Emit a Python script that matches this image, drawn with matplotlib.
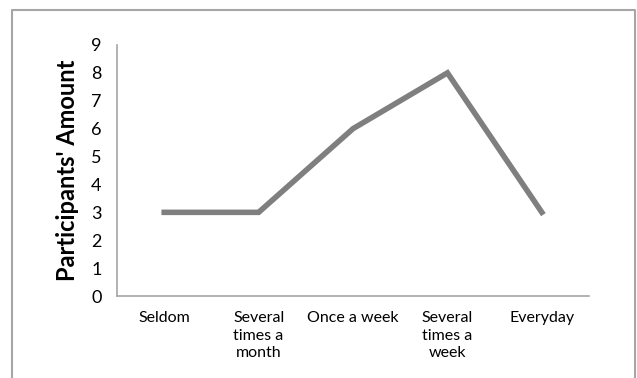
import matplotlib.pyplot as plt
from matplotlib.lines import Line2D

categories = ['Seldom', 'Several\ntimes a\nmonth', 'Once a week', 'Several\ntimes a\nweek', 'Everyday']
amounts = [3, 3, 6, 8, 3]

plt.rcParams['font.family'] = ['Lato', 'DejaVu Sans']

fig = plt.figure(figsize=(6.37, 3.78), dpi=100)
ax = fig.add_axes([0.1837, 0.2169, 0.7410, 0.6641])

x = range(len(categories))
ax.plot(x, amounts, color='#7f7f7f', linewidth=4, solid_joinstyle='miter')

ax.set_xlim(-0.5, len(categories) - 0.5)
ax.set_ylim(0, 9)
ax.set_yticks(range(10))
ax.set_xticks(list(x))
ax.set_xticklabels(categories, fontsize=11.5, linespacing=1.32, va='top')
ax.tick_params(axis='both', length=0, colors='black')
ax.tick_params(axis='y', labelsize=13, pad=11)
ax.tick_params(axis='x', pad=11)

for side in ['top', 'right']:
    ax.spines[side].set_visible(False)
for side in ['left', 'bottom']:
    ax.spines[side].set_color('#a6a6a6')
    ax.spines[side].set_linewidth(1.2)

ax.set_ylabel("Participants' Amount", fontsize=17, fontweight='bold', labelpad=9)

# frame around the chart area
frame_x = [12 / 637, 12 / 637, 635 / 637, 635 / 637]
frame_y = [0, 1 - 9.5 / 378, 1 - 9.5 / 378, 0]
fig.add_artist(Line2D(frame_x, frame_y, transform=fig.transFigure, color='#a6a6a6', linewidth=1.5))

fig.savefig('out.png', dpi=100)
